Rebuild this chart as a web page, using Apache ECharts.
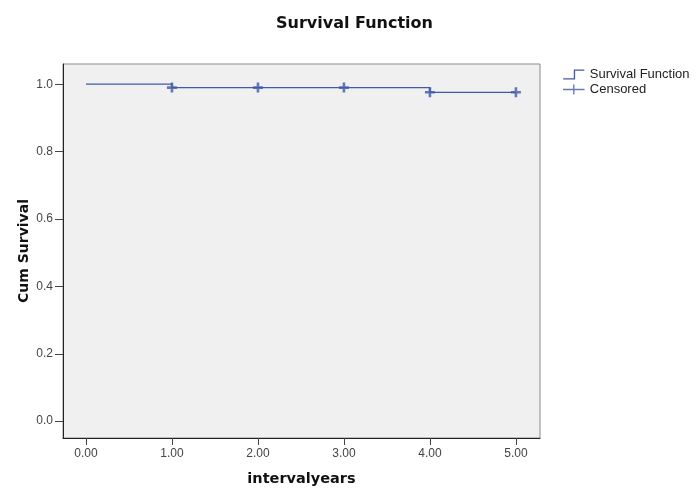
<!DOCTYPE html>
<html>
<head>
<meta charset="utf-8">
<script src="https://cdn.jsdelivr.net/npm/echarts@6/dist/echarts.min.js"></script>
<style>html,body{margin:0;padding:0;background:#fff}#c{width:697px;height:503px}</style>
</head>
<body>
<div id="c"></div>
<script>
var times = [0, 1, 2, 3, 4, 5];
var survival = [1.0, 0.99, 0.99, 0.99, 0.976, 0.976];
var censoredTimes = [1, 2, 3, 4, 5];
var censoredValues = [0.99, 0.99, 0.99, 0.976, 0.976];
var xTicks = [0, 1, 2, 3, 4, 5];
var yTicks = [0, 0.2, 0.4, 0.6, 0.8, 1.0];

var lineColor = '#4059a8';
var plusPath = 'path://M3.7,0 L6.3,0 L6.3,3.7 L10,3.7 L10,6.3 L6.3,6.3 L6.3,10 L3.7,10 L3.7,6.3 L0,6.3 L0,3.7 L3.7,3.7 Z';
var stepIcon = 'path://M0,9 L11,9 L11,0 L22,0 L22,1.4 L12.4,1.4 L12.4,10.4 L0,10.4 Z';
var plusIcon = 'path://M0,4.4 L10.3,4.4 L10.3,0 L11.7,0 L11.7,4.4 L22,4.4 L22,5.8 L11.7,5.8 L11.7,10.2 L10.3,10.2 L10.3,5.8 L0,5.8 Z';

var font = 'Liberation Sans, Arial, sans-serif';
var boldFont = 'DejaVu Sans, Liberation Sans, sans-serif';
var chart = echarts.init(document.getElementById('c'));
chart.setOption({
  animation: false,
  backgroundColor: '#ffffff',
  title: {
    text: 'Survival Function', left: 271, top: 11,
    textStyle: {fontFamily: boldFont, fontSize: 16, fontWeight: 'bold', color: '#111'}
  },
  legend: {
    orient: 'vertical', left: 558, top: 63, itemGap: 2,
    itemWidth: 22, itemHeight: 10,
    itemStyle: {color: lineColor},
    textStyle: {fontFamily: font, fontSize: 13, color: '#222'},
    data: [
      {name: 'Survival Function', icon: stepIcon},
      {name: 'Censored', icon: plusIcon}
    ]
  },
  grid: {
    left: 63, right: 157, top: 64, bottom: 65,
    show: true, backgroundColor: '#f0f0f0', borderColor: '#8a8a8a', borderWidth: 1
  },
  xAxis: {
    type: 'value', min: -0.267, max: 5.28,
    name: 'intervalyears', nameLocation: 'middle', nameGap: 34, nameMoveOverlap: false,
    nameTextStyle: {fontFamily: boldFont, fontSize: 14.5, fontWeight: 'bold', color: '#111'},
    axisLine: {show: true, onZero: false, lineStyle: {color: '#222', width: 1}},
    axisTick: {show: true, length: 7, customValues: xTicks, lineStyle: {color: '#444'}},
    axisLabel: {customValues: xTicks, margin: 10, fontFamily: font, fontSize: 12, color: '#444',
      formatter: function (v) { return v.toFixed(2); }},
    splitLine: {show: false}
  },
  yAxis: {
    type: 'value', min: -0.05, max: 1.06,
    name: 'Cum Survival', nameLocation: 'middle', nameGap: 32, nameMoveOverlap: false,
    nameTextStyle: {fontFamily: boldFont, fontSize: 14, fontWeight: 'bold', color: '#111'},
    axisLine: {show: true, onZero: false, lineStyle: {color: '#222', width: 1}},
    axisTick: {show: true, length: 8, customValues: yTicks, lineStyle: {color: '#444'}},
    axisLabel: {customValues: yTicks, margin: 10, fontFamily: font, fontSize: 12, color: '#444',
      formatter: function (v) { return v.toFixed(1); }},
    splitLine: {show: false}
  },
  series: [
    {
      name: 'Survival Function', type: 'line', step: 'end',
      data: times.map(function (t, i) { return [t, survival[i]]; }),
      showSymbol: false, symbol: 'none',
      lineStyle: {color: lineColor, width: 1.3},
      itemStyle: {color: lineColor}
    },
    {
      name: 'Censored', type: 'scatter',
      data: censoredTimes.map(function (t, i) { return [t, censoredValues[i]]; }),
      symbol: plusPath, symbolSize: [10, 10],
      itemStyle: {color: lineColor}
    }
  ]
});
</script>
</body>
</html>
